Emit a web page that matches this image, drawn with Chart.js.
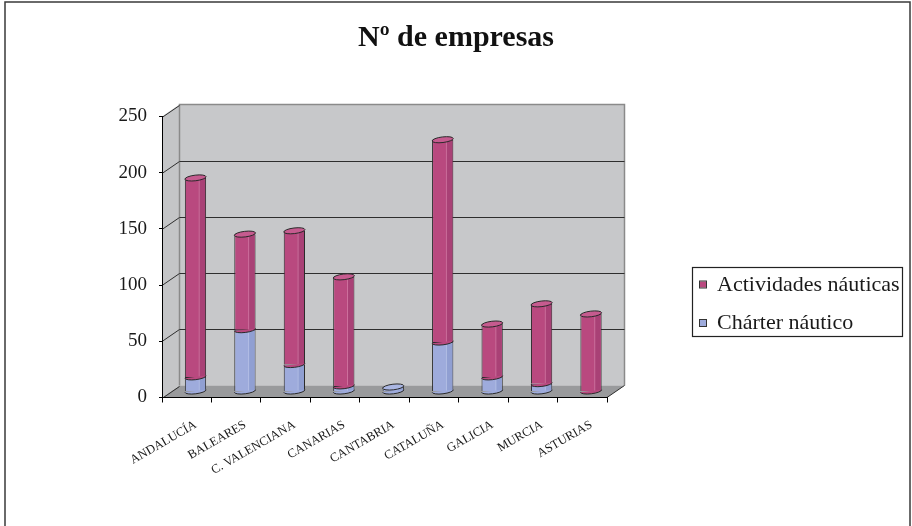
<!DOCTYPE html>
<html>
<head>
<meta charset="utf-8">
<title>Nº de empresas</title>
<script src="https://cdn.jsdelivr.net/npm/chart.js@4.4.1/dist/chart.umd.min.js"></script>
<style>
  html, body { margin: 0; padding: 0; background: #fff; }
  canvas { display: block; }
</style>
</head>
<body>
<canvas id="chart" width="912" height="526"></canvas>
<script>
// regiones y número de empresas por tipo
const regiones = ['ANDALUCÍA', 'BALEARES', 'C. VALENCIANA', 'CANARIAS', 'CANTABRIA', 'CATALUÑA', 'GALICIA', 'MURCIA', 'ASTURIAS']
const charter = [13, 55, 24, 5, 4, 44, 13, 7, 0]
const actividades = [177, 85, 119, 97, 0, 180, 47, 71, 69]
const yMin = 0
const yMax = 250
const yStep = 50

// profundidad del efecto 3D
const DEPTH_X = 17.5
const DEPTH_Y = -12
const RY = 2.8
const TILT = -0.12

const SERIF = '"Liberation Serif", "Times New Roman", serif'

// paredes, suelo y líneas de división del fondo
const walls = {
  id: 'walls',
  afterLayout(chart) {
    // el título se centra sobre todo el lienzo, no sólo sobre el gráfico
    const t = chart.titleBlock
    if (t) {
      t.left = 0
      t.right = chart.width
      t.width = chart.width
    }
  },
  beforeDraw(chart) {
    const ctx = chart.ctx
    const { left, right } = chart.chartArea
    const y = chart.scales.y
    const y0 = y.getPixelForValue(yMin)
    const yt = y.getPixelForValue(yMax)
    const bl = left + DEPTH_X, br = right + DEPTH_X

    ctx.save()
    ctx.fillStyle = '#fff'
    ctx.fillRect(0, 0, chart.width, chart.height)

    // marco exterior
    ctx.strokeStyle = '#3a3a3a'
    ctx.lineWidth = 1.5
    ctx.strokeRect(5, 2, chart.width - 7, chart.height + 20)

    // pared lateral
    ctx.fillStyle = '#c4c5c7'
    ctx.beginPath()
    ctx.moveTo(left, yt)
    ctx.lineTo(bl, yt + DEPTH_Y)
    ctx.lineTo(bl, y0 + DEPTH_Y)
    ctx.lineTo(left, y0)
    ctx.closePath()
    ctx.fill()

    // pared del fondo
    ctx.fillStyle = '#c7c8ca'
    ctx.fillRect(bl, yt + DEPTH_Y, br - bl, y0 - yt)

    // suelo
    ctx.fillStyle = '#999a9c'
    ctx.beginPath()
    ctx.moveTo(left, y0)
    ctx.lineTo(right, y0)
    ctx.lineTo(br, y0 + DEPTH_Y)
    ctx.lineTo(bl, y0 + DEPTH_Y)
    ctx.closePath()
    ctx.fill()

    // bordes grises de la pared del fondo
    ctx.strokeStyle = '#8a8a8a'
    ctx.lineWidth = 1.5
    ctx.beginPath()
    ctx.moveTo(bl, y0 + DEPTH_Y)
    ctx.lineTo(bl, yt + DEPTH_Y)
    ctx.lineTo(br, yt + DEPTH_Y)
    ctx.lineTo(br, y0 + DEPTH_Y)
    ctx.stroke()

    // líneas de división
    ctx.strokeStyle = '#2e2e2e'
    ctx.lineWidth = 1
    for (let v = yMin; v <= yMax; v += yStep) {
      const py = Math.round(y.getPixelForValue(v)) + 0.5
      ctx.beginPath()
      ctx.moveTo(left, py)
      ctx.lineTo(bl, py + DEPTH_Y)
      if (v > yMin && v < yMax) ctx.lineTo(br, py + DEPTH_Y)
      ctx.stroke()
    }

    // arista del suelo a la derecha
    ctx.beginPath()
    ctx.moveTo(right, y0)
    ctx.lineTo(br, y0 + DEPTH_Y)
    ctx.stroke()
    ctx.restore()
  }
}

// barras desplazadas a media profundidad con aspecto de cilindro
const cylinders = {
  id: 'cylinders',
  beforeDatasetsDraw(chart) {
    chart.ctx.save()
    chart.ctx.translate(DEPTH_X / 2, DEPTH_Y / 2)
  },
  afterDatasetsDraw(chart) {
    const ctx = chart.ctx
    ctx.lineWidth = 1
    ctx.strokeStyle = '#2a2a2a'
    for (let i = 0; i < chart.data.labels.length; i++) {
      let top = null
      let topDs = null
      chart.data.datasets.forEach((ds, d) => {
        if (!ds.data[i]) return
        const el = chart.getDatasetMeta(d).data[i]
        const half = el.width / 2
        const h = el.base - el.y

        // lado oscuro y reflejo
        ctx.fillStyle = ds.shade
        ctx.fillRect(el.x + half * 0.3, el.y, half * 0.7 - 1, h)
        ctx.fillStyle = ds.light
        ctx.fillRect(el.x + half * 0.3, el.y, 1, h)

        // base redondeada
        ctx.beginPath()
        ctx.ellipse(el.x, el.base, half, RY, TILT, 0, Math.PI)
        ctx.fillStyle = ds.backgroundColor
        ctx.fill()
        ctx.beginPath()
        ctx.ellipse(el.x, el.base, half, RY, TILT, 0, Math.PI)
        ctx.stroke()

        top = el
        topDs = ds
      })
      if (top) {
        ctx.beginPath()
        ctx.ellipse(top.x, top.y, top.width / 2, RY, TILT, 0, Math.PI * 2)
        ctx.fillStyle = topDs.cap
        ctx.fill()
        ctx.stroke()
      }
    }
    ctx.restore()
  }
}

// leyenda con recuadro
const boxLegend = {
  id: 'boxLegend',
  afterDraw(chart) {
    const ctx = chart.ctx
    ctx.save()
    ctx.strokeStyle = '#222'
    ctx.lineWidth = 1.2
    ctx.strokeRect(692.5, 267.5, 210, 69)
    ctx.font = '22px ' + SERIF
    ctx.textBaseline = 'alphabetic'
    ctx.textAlign = 'left'
    const entries = chart.data.datasets.slice().reverse()
    entries.forEach((ds, k) => {
      const cy = 284.5 + k * 38.5
      ctx.fillStyle = ds.backgroundColor
      ctx.fillRect(700, cy - 3, 6, 6)
      ctx.strokeStyle = '#333'
      ctx.lineWidth = 1
      ctx.strokeRect(699.5, cy - 3.5, 7, 7)
      ctx.fillStyle = '#1a1a1a'
      ctx.fillText(ds.label, 717, cy + 6)
    })
    ctx.restore()
  }
}

new Chart(document.getElementById('chart'), {
  type: 'bar',
  data: {
    labels: regiones,
    datasets: [
      {
        label: 'Chárter náutico',
        data: charter,
        backgroundColor: '#9eabdc',
        shade: '#909fd2',
        light: '#b4bfe6',
        cap: '#aab6e2',
        borderColor: '#2a2a2a',
        borderWidth: 1
      },
      {
        label: 'Actividades náuticas',
        data: actividades,
        backgroundColor: '#b9497f',
        shade: '#a94176',
        light: '#cd6f9c',
        cap: '#c65b8f',
        borderColor: '#2a2a2a',
        borderWidth: 1
      }
    ]
  },
  options: {
    responsive: false,
    animation: false,
    datasets: {
      bar: {
        categoryPercentage: 1,
        barPercentage: 0.43,
        clip: false
      }
    },
    layout: {
      padding: { left: 0, right: 305, top: 0, bottom: 0 }
    },
    plugins: {
      legend: { display: false },
      tooltip: { enabled: false },
      title: {
        display: true,
        text: 'Nº de empresas',
        color: '#111',
        font: { family: SERIF, size: 30, weight: 'bold', lineHeight: 1.2 },
        padding: { top: 20.5, bottom: 60 }
      }
    },
    scales: {
      x: {
        stacked: true,
        grid: {
          offset: true,
          drawOnChartArea: false,
          drawTicks: true,
          tickLength: 5,
          color: '#000'
        },
        border: { display: true, color: '#000', width: 1 },
        ticks: {
          autoSkip: false,
          minRotation: 30,
          maxRotation: 30,
          labelOffset: 9,
          padding: 15,
          color: '#1a1a1a',
          font: { family: SERIF, size: 12.5 }
        },
        afterFit(scale) {
          scale.height = 128.5
        }
      },
      y: {
        stacked: true,
        min: yMin,
        max: yMax,
        grid: {
          drawOnChartArea: false,
          drawTicks: true,
          tickLength: 3,
          color: '#000'
        },
        border: { display: true, color: '#000', width: 1 },
        ticks: {
          stepSize: yStep,
          padding: 12,
          color: '#1a1a1a',
          font: { family: SERIF, size: 19 }
        },
        afterFit(scale) {
          scale.width = 162
        }
      }
    }
  },
  plugins: [walls, cylinders, boxLegend]
})
</script>
</body>
</html>
